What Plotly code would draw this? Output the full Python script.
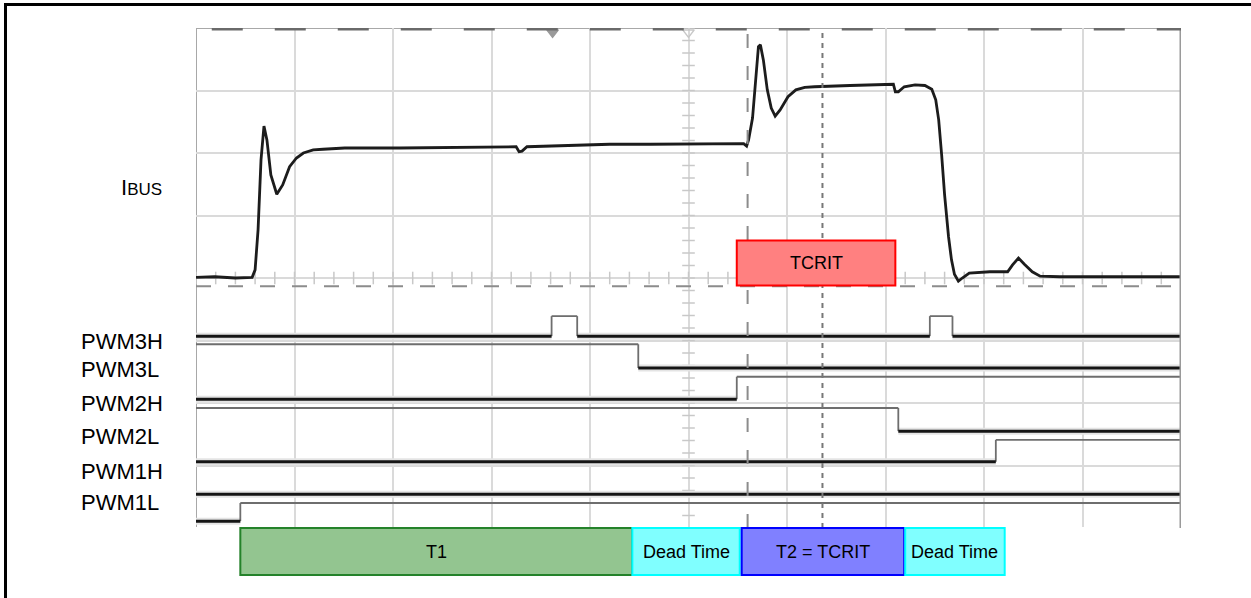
import plotly.graph_objects as go

# ---------------- data (time and amplitude in scope divisions) ----------------
ibus_t = [0, 0.19, 0.40, 0.57, 0.60, 0.63, 0.66, 0.69, 0.72, 0.76, 0.82, 0.88, 0.95, 1.02, 1.09,
          1.19, 1.29, 1.51, 2.07, 2.58, 3.19, 3.25, 3.28, 3.31, 3.36, 3.70, 4.20, 4.61, 5.12, 5.56,
          5.59, 5.61, 5.65, 5.68, 5.71, 5.73, 5.76, 5.80, 5.84, 5.88, 5.93, 6.01, 6.09, 6.18, 6.28,
          6.64, 6.94, 7.08, 7.10, 7.13, 7.19, 7.30, 7.40, 7.47, 7.51, 7.54, 7.57, 7.60, 7.64, 7.67,
          7.70, 7.74, 7.78, 7.85, 8.06, 8.24, 8.29, 8.35, 8.41, 8.49, 8.57, 8.77, 9.18, 10.0]
ibus_v = [4.01, 4.02, 4.00, 4.01, 4.13, 4.77, 5.89, 6.43, 6.21, 5.65, 5.34, 5.49, 5.78, 5.92, 6.00,
          6.05, 6.06, 6.08, 6.08, 6.09, 6.10, 6.10, 6.02, 6.03, 6.10, 6.12, 6.14, 6.14, 6.14, 6.15,
          6.11, 6.21, 6.56, 7.17, 7.70, 7.73, 7.49, 7.01, 6.72, 6.59, 6.69, 6.90, 7.01, 7.05, 7.06,
          7.08, 7.10, 7.10, 6.98, 6.98, 7.06, 7.09, 7.08, 7.02, 6.85, 6.53, 5.97, 5.33, 4.66, 4.29,
          4.06, 3.95, 4.00, 4.08, 4.10, 4.10, 4.21, 4.32, 4.22, 4.10, 4.03, 4.02, 4.02, 4.02]

# digital channels
dig_names = ["PWM3H", "PWM3L", "PWM2H", "PWM2L", "PWM1H", "", "PWM1L"]
dig_label_y = [2.98, 2.53, 2.00, 1.46, 0.90, None, 0.41]
dig_low = [3.07, 2.56, 2.06, 1.55, 1.06, 0.54, 0.11]
dig_high = [3.39, 2.94, 2.42, 1.92, 1.41, 0.90, 0.40]
dig_start_high = [False, True, False, True, False, False, False]
dig_edges = [[3.61, 3.87, 7.45, 7.68], [4.49], [5.49], [7.13], [8.12], [], [0.45]]

# timing boxes
box_labels = ["T1", "Dead Time", "T2 = TCRIT", "Dead Time"]
box_start = [0.45, 4.43, 5.54, 7.20]
box_end = [4.43, 5.52, 7.19, 8.21]
box_fill = ["#93c590", "#80ffff", "#8080ff", "#80ffff"]
box_line = ["#24822a", "#00ffff", "#0000ff", "#00ffff"]

tcrit_x = [5.49, 7.10]
tcrit_y = [3.88, 4.60]

cursor_dash_x = 5.60
cursor_dot_x = 6.36
ref_level = 3.87
trig_marks = [3.62, 5.0]

# ---------------- figure ----------------
W, H = 1251, 598
fig = go.Figure()

# center axis minor ticks
tx = [i * 0.2 for i in range(51)]
ty = [i * 0.2 for i in range(41)]
fig.add_trace(go.Scatter(x=tx, y=[4] * len(tx), mode="markers",
                         marker=dict(symbol="line-ns", size=9, line=dict(color="#c8c8c8", width=1.5)),
                         hoverinfo="skip"))
fig.add_trace(go.Scatter(x=[5] * len(ty), y=ty, mode="markers",
                         marker=dict(symbol="line-ew", size=9, line=dict(color="#c8c8c8", width=1.5)),
                         hoverinfo="skip"))

# digital traces
low_x, low_y, hi_x, hi_y = [], [], [], []
for k in range(len(dig_names)):
    times = [0] + dig_edges[k] + [10]
    state = dig_start_high[k]
    for i in range(len(times) - 1):
        a, b = times[i], times[i + 1]
        if state:
            hi_x += [a, b, None]; hi_y += [dig_high[k], dig_high[k], None]
        else:
            low_x += [a, b, None]; low_y += [dig_low[k], dig_low[k], None]
        if i < len(times) - 2:
            hi_x += [b, b, None]; hi_y += [dig_low[k], dig_high[k], None]
        state = not state

fig.add_trace(go.Scatter(x=low_x, y=low_y, mode="lines",
                         line=dict(color="#e4e4e4", width=7), hoverinfo="skip"))
fig.add_trace(go.Scatter(x=hi_x, y=hi_y, mode="lines",
                         line=dict(color="#6e6e6e", width=1.8), hoverinfo="skip"))
fig.add_trace(go.Scatter(x=low_x, y=low_y, mode="lines",
                         line=dict(color="#151515", width=3), hoverinfo="skip"))

# IBUS
fig.add_trace(go.Scatter(x=ibus_t, y=ibus_v, mode="lines",
                         line=dict(color="#1c1c1c", width=2.8), hoverinfo="skip"))

# trigger markers at top
fig.add_trace(go.Scatter(x=trig_marks, y=[7.93, 7.93], mode="markers",
                         marker=dict(symbol="triangle-down", size=10,
                                     color=["#9a9a9a", "rgba(0,0,0,0)"],
                                     line=dict(color=["#9a9a9a", "#c8c8c8"], width=1.5)),
                         hoverinfo="skip", cliponaxis=False))

shapes = []
# scope border
shapes.append(dict(type="rect", xref="x", yref="y", x0=0, x1=10, y0=0, y1=8,
                   line=dict(color="#a8a8a8", width=2), layer="below"))
shapes.append(dict(type="line", xref="x", yref="y", x0=10, x1=10, y0=0, y1=8,
                   line=dict(color="#9a9a9a", width=3)))
# top dashed cursor
shapes.append(dict(type="line", xref="x", yref="y", x0=0.16, x1=10, y0=7.985, y1=7.985,
                   line=dict(color="#6a6a6a", width=3, dash="31px,32px")))
# reference dashed horizontal
shapes.append(dict(type="line", xref="x", yref="y", x0=0, x1=10, y0=ref_level, y1=ref_level,
                   line=dict(color="#8c8c8c", width=2, dash="15px,17px")))
# vertical cursors
shapes.append(dict(type="line", xref="x", yref="y", x0=cursor_dash_x, x1=cursor_dash_x, y0=0, y1=8,
                   line=dict(color="#8c8c8c", width=2, dash="14px,18px")))
shapes.append(dict(type="line", xref="x", yref="y", x0=cursor_dot_x, x1=cursor_dot_x, y0=0, y1=8,
                   line=dict(color="#777777", width=2, dash="5px,5px")))
# TCRIT box
shapes.append(dict(type="rect", xref="x", yref="y", x0=tcrit_x[0], x1=tcrit_x[1],
                   y0=tcrit_y[0], y1=tcrit_y[1], fillcolor="#ff8080",
                   line=dict(color="#ff0000", width=2)))
# timing boxes (on strip axis)
for i in range(len(box_labels)):
    shapes.append(dict(type="rect", xref="x2", yref="y2", x0=box_start[i], x1=box_end[i],
                       y0=0.02, y1=0.98, fillcolor=box_fill[i],
                       line=dict(color=box_line[i], width=2)))
# outer frame
shapes.append(dict(type="rect", xref="paper", yref="paper", x0=5.5 / W, x1=1.2,
                   y0=-0.2, y1=1 - 4.5 / H, line=dict(color="black", width=3)))

ann = []
FONT = "Arial, Liberation Sans, sans-serif"
for k, name in enumerate(dig_names):
    if name:
        ann.append(dict(text=name, xref="paper", yref="y", x=79 / W, y=dig_label_y[k],
                        xanchor="left", yanchor="middle", showarrow=False,
                        font=dict(family=FONT, size=22, color="black")))
ann.append(dict(text='I<span style="font-size:17px">BUS</span>', xref="paper", yref="y",
                x=164 / W, y=5.45, xanchor="right", yanchor="middle", showarrow=False,
                font=dict(family=FONT, size=22, color="black")))
ann.append(dict(text="TCRIT", xref="x", yref="y", x=(tcrit_x[0] + tcrit_x[1]) / 2,
                y=(tcrit_y[0] + tcrit_y[1]) / 2, showarrow=False,
                font=dict(family=FONT, size=18, color="black")))
for i in range(len(box_labels)):
    ann.append(dict(text=box_labels[i], xref="x2", yref="y2", x=(box_start[i] + box_end[i]) / 2,
                    y=0.5, showarrow=False, font=dict(family=FONT, size=18, color="black")))

xd = [196 / W, 1181 / W]
fig.update_layout(
    width=W, height=H, margin=dict(l=0, r=0, t=0, b=0),
    paper_bgcolor="white", plot_bgcolor="white", showlegend=False,
    xaxis=dict(domain=xd, range=[0, 10], dtick=1, showgrid=True, gridcolor="#dadada", gridwidth=2,
               zeroline=False, showticklabels=False, ticks="", showline=False, fixedrange=True),
    yaxis=dict(domain=[1 - 528 / H, 1 - 28 / H], range=[0, 8], dtick=1, showgrid=True,
               gridcolor="#dadada", gridwidth=2, zeroline=False, showticklabels=False, ticks="",
               showline=False, fixedrange=True),
    xaxis2=dict(domain=xd, range=[0, 10], matches="x", anchor="y2", showgrid=False,
                zeroline=False, showticklabels=False, ticks="", showline=False, visible=False),
    yaxis2=dict(domain=[1 - 576 / H, 1 - 527 / H], range=[0, 1], anchor="x2", showgrid=False,
                zeroline=False, showticklabels=False, ticks="", showline=False, visible=False),
    shapes=shapes, annotations=ann,
)
fig.write_html("out.html")
